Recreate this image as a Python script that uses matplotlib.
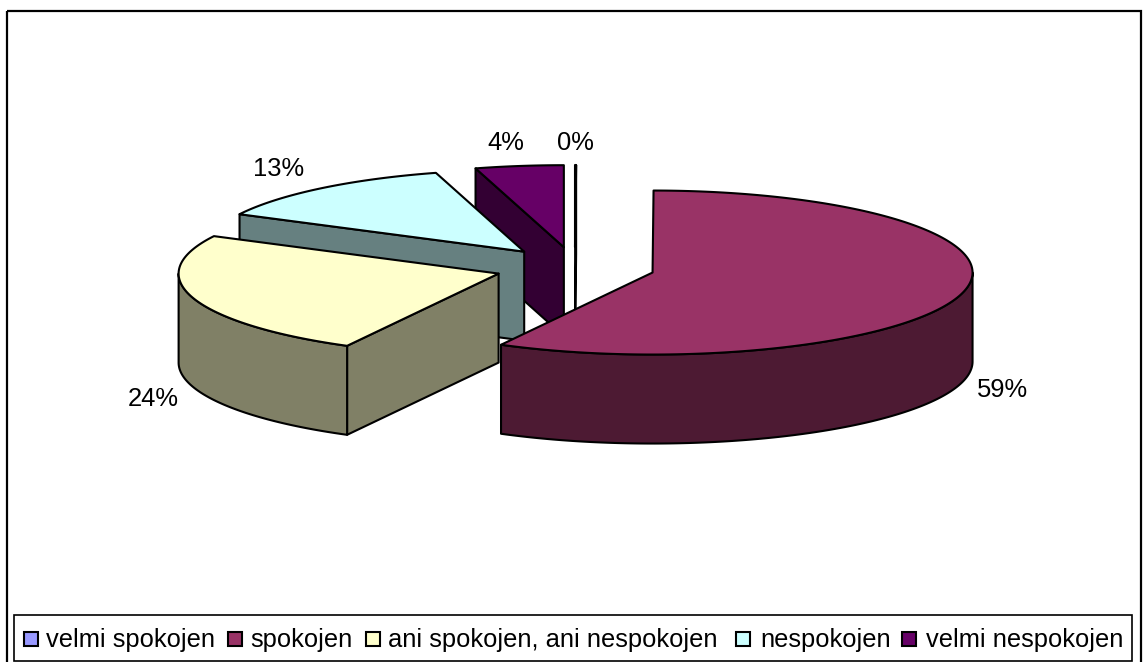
import numpy as np
import matplotlib
matplotlib.use("Agg")
import matplotlib.pyplot as plt
from matplotlib.patches import Polygon, Rectangle

plt.rcParams['font.family'] = ['Liberation Sans', 'DejaVu Sans']

categories = ['velmi spokojen', 'spokojen', 'ani spokojen, ani nespokojen', 'nespokojen', 'velmi nespokojen']
# shares as they appear in the projected drawing
values = [0.05, 57.8, 24.7, 13.0, 4.45]
value_labels = ['0%', '59%', '24%', '13%', '4%']
top_colors = ['#9999FF', '#993366', '#FFFFCC', '#CCFFFF', '#660066']
side_colors = ['#4D4D80', '#4D1A33', '#808066', '#668080', '#330033']

W, H = 1143, 662
CX, CY = 575, 267.5    # pie centre
A, B = 320, 82         # ellipse semi-axes
DEPTH = 89             # extrusion
EXPLODE = 0.25
LW = 1.5
FS = 18.4

fig = plt.figure(figsize=(W / 100, H / 100), dpi=100, facecolor='white')
ax = fig.add_axes([0, 0, 1, 1])
ax.set_xlim(0, W)
ax.set_ylim(H, 0)
ax.axis('off')


def pt(theta, ox, oy):
    t = np.radians(theta)
    return np.column_stack([ox + A * np.sin(t), oy - B * np.cos(t)])


total = sum(values)
spans = []
acc = 0.0
for v in values:
    spans.append((acc, acc + v / total * 360))
    acc += v / total * 360

# painter's order, back to front
order = [0, 4, 3, 2, 1]
for i in order:
    t0, t1 = spans[i]
    mid = (t0 + t1) / 2
    ox = CX + EXPLODE * A * np.sin(np.radians(mid))
    oy = CY - EXPLODE * B * np.cos(np.radians(mid))
    arc = pt(np.linspace(t0, t1, 200), ox, oy)
    apex = np.array([ox, oy])
    down = np.array([0, DEPTH])
    kw = dict(edgecolor='black', linewidth=LW, joinstyle='round')
    # cut faces, only those turned towards the viewer
    if 180 < t0 < 360:
        p = arc[0]
        ax.add_patch(Polygon([apex, p, p + down, apex + down], closed=True,
                             facecolor=side_colors[i], zorder=1, **kw))
    if 0 < t1 < 180:
        p = arc[-1]
        ax.add_patch(Polygon([apex, p, p + down, apex + down], closed=True,
                             facecolor=side_colors[i], zorder=1, **kw))
    # outer rim, only the half facing the viewer
    r0, r1 = max(t0, 90), min(t1, 270)
    if r1 > r0:
        rim = pt(np.linspace(r0, r1, 200), ox, oy)
        ax.add_patch(Polygon(np.vstack([rim, rim[::-1] + down]), closed=True,
                             facecolor=side_colors[i], zorder=1, **kw))
    # top
    ax.add_patch(Polygon(np.vstack([apex, arc]), closed=True,
                         facecolor=top_colors[i], zorder=1, **kw))

# percentage labels, placed as in the reference
label_pos = {1: (1002, 390), 2: (153, 399), 3: (279, 169), 4: (506, 143), 0: (575, 143)}
for i, (x, y) in label_pos.items():
    ax.text(x, y, value_labels[i], ha='center', va='center', fontsize=FS, color='black', zorder=5)

# outer frame
ax.add_patch(Rectangle((7, 11), 1134, 660, fill=False, edgecolor='black', linewidth=1.6, zorder=4))

# legend box
ax.add_patch(Rectangle((14, 615), 1118, 46, facecolor='white', edgecolor='black', linewidth=1.2, zorder=4))
swatch_x = [24, 228, 366, 736, 902]
text_x = [46, 250, 388, 760, 926]
for i in range(5):
    ax.add_patch(Rectangle((swatch_x[i], 632), 14, 14, facecolor=top_colors[i], edgecolor='black',
                           linewidth=1.5, zorder=5))
    ax.text(text_x[i], 640, categories[i], ha='left', va='center', fontsize=FS, color='black', zorder=5)

fig.savefig('out.png', dpi=100, facecolor='white')
